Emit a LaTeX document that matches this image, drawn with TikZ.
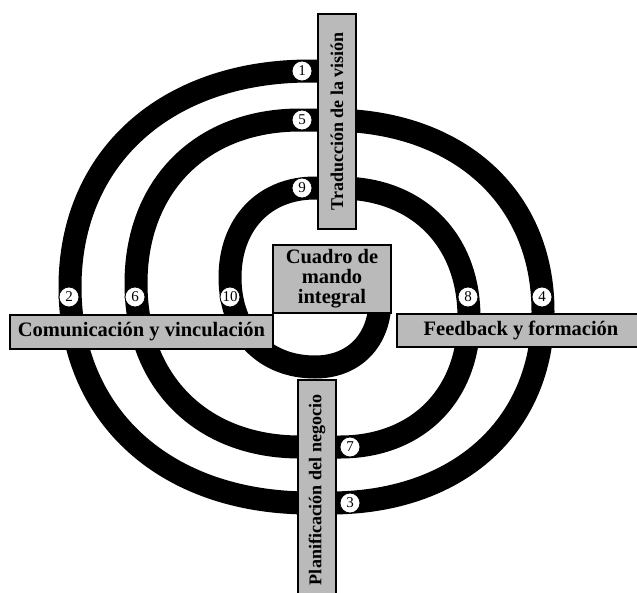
\documentclass[tikz,border=0pt]{standalone}
\usepackage{fontspec}
\setmainfont{Liberation Serif}
\begin{document}
\begin{tikzpicture}[x=1pt,y=-1pt,
  band/.style={line width=23pt,draw=black},
  barbox/.style={draw=black,line width=1.2pt,fill=black!27,inner sep=0pt,font=\bfseries\fontsize{20.5}{20}\selectfont},
  vbarbox/.style={barbox,rotate=90,font=\bfseries\fontsize{18}{18}\selectfont},
  numc/.style={circle,draw=black,line width=0.8pt,fill=white,minimum size=20pt,inner sep=0pt,font=\fontsize{15}{15}\selectfont}]
\useasboundingbox (0,0) rectangle (637,592);
% spiral
\coordinate (sstart) at (335,71);
\coordinate (send) at (380,290);
\draw[band] (sstart) -- (310,71)
  .. controls (166,71) and (70,157.4) .. (70,287)
  .. controls (70,416.6) and (166,503) .. (310,503)
  -- (330,503)
  .. controls (457.8,503) and (543,426.4) .. (543,311.5)
  .. controls (543,196.6) and (457.8,120) .. (330,120)
  -- (300,120)
  .. controls (201.6,120) and (136,185.4) .. (136,283.5)
  .. controls (136,381.6) and (201.6,447) .. (300,447)
  -- (340,447)
  .. controls (417.4,447) and (469,395.2) .. (469,317.5)
  .. controls (469,239.8) and (417.4,188) .. (340,188)
  -- (315,188)
  .. controls (264,188) and (230,224.2) .. (230,277.5)
  .. controls (230,331.2) and (264,367) .. (315,367)
  .. controls (354,367) and (380,340.2) .. (380,300)
  -- (send);
% numbers
\node[numc] (n1) at (302,71) {1};
\node[numc] (n5) at (302,120) {5};
\node[numc] (n9) at (302,188) {9};
\node[numc] (n2) at (69,297) {2};
\node[numc] (n6) at (135,297) {6};
\node[numc] (n10) at (230,297) {10};
\node[numc] (n8) at (468,297) {8};
\node[numc] (n4) at (542,297) {4};
\node[numc] (n7) at (350,447) {7};
\node[numc] (n3) at (350,503) {3};
% bars
\node[vbarbox,minimum width=215pt,minimum height=38pt] (trad) at (337,121.5) {Traducción de la visión};
\node[vbarbox,minimum width=220pt,minimum height=38pt] (plan) at (317,490) {Planificación del negocio};
\node[barbox,minimum width=263pt,minimum height=34pt] (comu) at (141.5,332) {Comunicación y vinculación};
\node[barbox,minimum width=248pt,minimum height=33pt] (feed) at (521,330.5) {Feedback y formación};
\node[barbox,minimum width=118pt,minimum height=68pt,align=center] (cmi) at (332,279) {Cuadro de\\mando\\integral};
\end{tikzpicture}
\end{document}
